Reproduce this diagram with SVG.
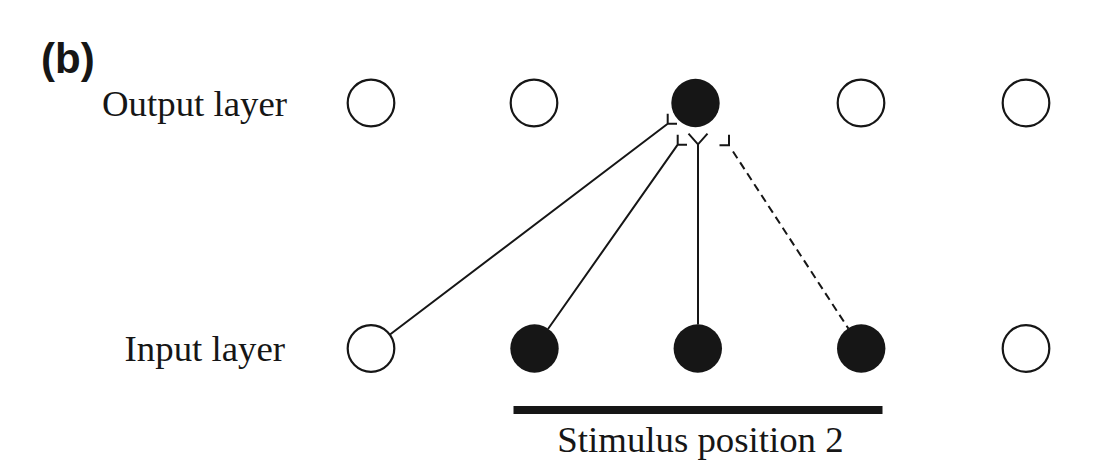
<svg xmlns="http://www.w3.org/2000/svg" width="1107" height="472" viewBox="0 0 1107 472">
<style>
.open{fill:#ffffff;stroke:#161616;stroke-width:2.2}
.on{fill:#161616;stroke:none}
.lbl{font-family:"Liberation Serif","Times New Roman",serif;font-size:36.8px;fill:#161616}
.conn{stroke:#161616;stroke-width:2;fill:none;stroke-linecap:butt}
.dash{stroke-dasharray:8 5}
</style>
<rect width="1107" height="472" fill="#ffffff"/>
<text x="41" y="73" style="font-family:'Liberation Sans',Arial,sans-serif;font-weight:bold;font-size:42px;fill:#161616">(b)</text>
<text class="lbl" x="287" y="116" text-anchor="end">Output layer</text>
<text class="lbl" x="285" y="361" text-anchor="end">Input layer</text>
<g id="out1"><circle class="open" cx="371" cy="103" r="23.3"/></g>
<g id="out2"><circle class="open" cx="534" cy="103" r="23.3"/></g>
<g id="out3"><circle class="on" cx="695.5" cy="103" r="24.2"/></g>
<g id="out4"><circle class="open" cx="861" cy="103" r="23.3"/></g>
<g id="out5"><circle class="open" cx="1026" cy="103" r="23.3"/></g>
<g id="in1"><circle class="open" cx="371" cy="348.5" r="23.3"/></g>
<g id="in2"><circle class="on" cx="534.5" cy="348.5" r="24.2"/></g>
<g id="in3"><circle class="on" cx="697.8" cy="348.5" r="24.2"/></g>
<g id="in4"><circle class="on" cx="861.2" cy="348.5" r="24.2"/></g>
<g id="in5"><circle class="open" cx="1026" cy="348.5" r="23.3"/></g>
<g id="connectors">
<path class="conn" d="M390 334.5 L667.7 123.7 M667.7 113.7 V123.7 H677"/>
<path class="conn" d="M548 329 L677.7 144.7 M677.7 134.7 V144.7 H687"/>
<path class="conn" d="M698 324.5 V144.3 M688.5 133.7 L698 144.3 L707.5 133.7"/>
<path class="conn dash" d="M733 151.5 L848.4 328.6"/>
<path class="conn" d="M729 134.7 V145.3 H719.5"/>
</g>
<g id="stimulus">
<rect x="513.5" y="406" width="369" height="8" fill="#161616"/>
<text class="lbl" x="700.5" y="452" text-anchor="middle">Stimulus position 2</text>
</g>
</svg>
